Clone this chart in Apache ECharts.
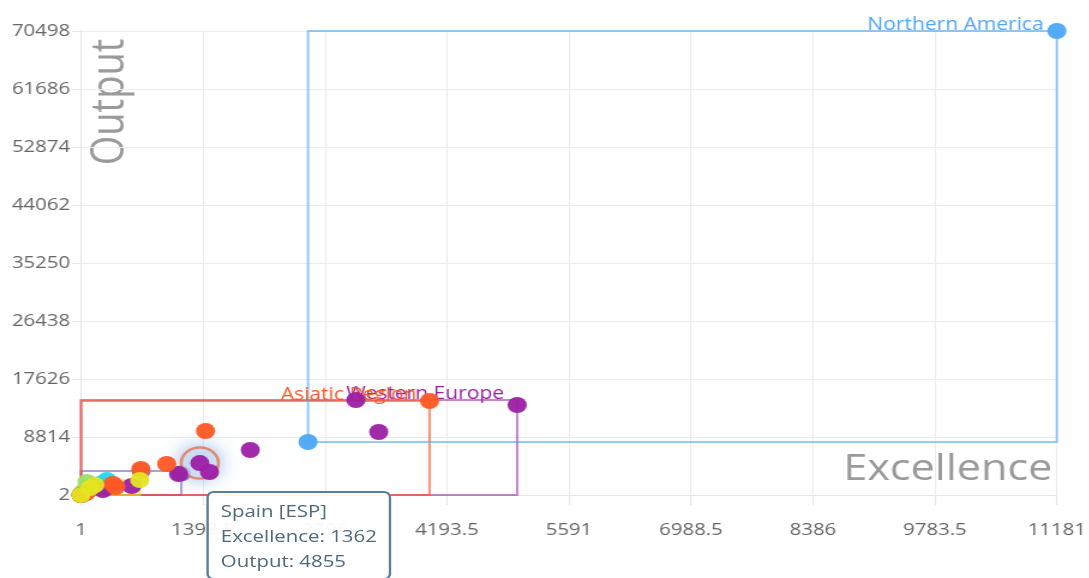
<!DOCTYPE html>
<html><head><meta charset="utf-8">
<script src="https://cdn.jsdelivr.net/npm/echarts@6/dist/echarts.min.js"></script>
<style>
html,body{margin:0;padding:0;background:#fff;overflow:hidden;}
#wrap{width:1089px;height:578px;overflow:hidden;position:relative;}
#chart{width:907.5px;height:578px;transform:scaleX(1.2);transform-origin:0 0;}
</style></head><body><div id="wrap"><div id="chart"></div></div>
<script>
// tick labels
const xTicks = [1, 1398.5, 2796, 4193.5, 5591, 6988.5, 8386, 9783.5, 11181];
const yTicks = [2, 8814, 17626, 26438, 35250, 44062, 52874, 61686, 70498];

// countries per region: [excellence, output, name, code]
const northernAmerica = [[2602, 8054, 'Canada', 'CAN'], [11181, 70498, 'United States', 'USA']];
const asiaticRegion = [[3994, 14284, '', ''], [1427, 9726, '', ''], [982, 4716, '', ''], [686, 3952, '', ''], [366, 1673, '', ''], [400, 1217, '', ''], [60, 300, '', ''], [2, 5, '', '']];
const westernEurope = [[4998, 13676, '', ''], [3150, 14435, '', ''], [3412, 9574, '', ''], [1940, 6839, '', ''], [1362, 4855, 'Spain', 'ESP'], [1473, 3496, '', ''], [1119, 3193, '', ''], [583, 1369, '', ''], [252, 762, '', ''], [1, 3, '', '']];
const easternEurope = [[1150, 3250, '', ''], [690, 3648, '', ''], [300, 1200, '', ''], [2, 4, '', '']];
const latinAmerica = [[297, 2280, '', ''], [218, 1673, '', ''], [150, 1000, '', ''], [5, 20, '', '']];
const middleEast = [[69, 1977, '', ''], [30, 600, '', '']];
const africa = [[674, 2281, '', ''], [160, 1520, '', ''], [104, 1066, '', ''], [1, 2, '', '']];
const highlighted = westernEurope[4];

const chart = echarts.init(document.getElementById('chart'));
const FONT = 'Open Sans';

function regionSeries(name, data, color, lineColor, showLabel) {
  const xs = data.map(d => d[0]), ys = data.map(d => d[1]);
  return {
    type: 'scatter', name,
    data: data.map(d => ({ value: [d[0], d[1]], name: d[2], code: d[3] })),
    symbolSize: 16,
    itemStyle: { color, opacity: 0.95 },
    emphasis: { disabled: true },
    markArea: {
      silent: true,
      itemStyle: { color: 'rgba(0,0,0,0)', borderColor: lineColor, borderWidth: 2 },
      label: { show: showLabel, position: ['100%', 0], align: 'right', verticalAlign: 'bottom',
        offset: [-12, 4], color, fontSize: 17.5, fontFamily: FONT },
      emphasis: { disabled: true },
      data: [[{ name, coord: [Math.min(...xs), Math.min(...ys)] }, { coord: [Math.max(...xs), Math.max(...ys)] }]]
    }
  };
}

const series = [
  regionSeries('Eastern Europe', easternEurope, '#8878d0', 'rgba(136,120,208,0.7)', false),
  regionSeries('Middle East', middleEast, '#9be06a', 'rgba(155,224,106,0.6)', false),
  regionSeries('Latin America', latinAmerica, '#2ed3ea', 'rgba(46,211,234,0.6)', false),
  {
    type: 'scatter', name: 'focus', silent: true, z: 2,
    data: [[highlighted[0], highlighted[1]]],
    symbolSize: 31,
    itemStyle: { color: 'rgba(222,234,248,0.85)', borderColor: 'rgba(236,100,70,0.9)', borderWidth: 2.5,
      shadowBlur: 16, shadowColor: 'rgba(60,130,210,0.7)' },
    tooltip: { show: false }
  },
  regionSeries('Western Europe', westernEurope, '#9c1fa5', 'rgba(156,31,165,0.55)', true),
  regionSeries('Asiatic Region', asiaticRegion, '#ff5722', 'rgba(255,87,34,0.65)', true),
  regionSeries('Africa', africa, '#e5e520', 'rgba(229,229,32,0.6)', false),
  regionSeries('Northern America', northernAmerica, '#4da6f7', 'rgba(77,166,247,0.6)', true)
];

chart.setOption({
  animation: false,
  backgroundColor: '#ffffff',
  grid: { left: 67.5, right: 21, top: 31, bottom: 83, containLabel: false },
  xAxis: {
    type: 'value', min: xTicks[0], max: xTicks[xTicks.length - 1],
    axisLine: { show: true, lineStyle: { color: '#e6e6e6' } },
    axisTick: { show: true, length: 10, customValues: xTicks, lineStyle: { color: '#e6e6e6' } },
    axisLabel: { customValues: xTicks, formatter: v => String(v), margin: 27, color: '#666', fontSize: 17, fontFamily: FONT },
    splitLine: { show: true, lineStyle: { color: '#ebebeb' } }
  },
  yAxis: {
    type: 'value', min: yTicks[0], max: yTicks[yTicks.length - 1],
    axisLine: { show: true, lineStyle: { color: '#e6e6e6' } },
    axisTick: { show: true, length: 7, customValues: yTicks, lineStyle: { color: '#e6e6e6' } },
    axisLabel: { customValues: yTicks, formatter: v => String(v), margin: 9, color: '#666', fontSize: 17, fontFamily: FONT },
    splitLine: { show: true, lineStyle: { color: '#ebebeb' } }
  },
  tooltip: {
    trigger: 'item', triggerOn: 'none', alwaysShowContent: true, transitionDuration: 0,
    position: [172, 491],
    backgroundColor: 'rgba(255,255,255,0.95)', borderColor: '#5a7f99', borderWidth: 2, borderRadius: 6,
    padding: [5, 10],
    textStyle: { color: '#4e6a7e', fontSize: 17, fontFamily: FONT, lineHeight: 25 },
    extraCssText: 'box-shadow:none;',
    formatter: p => `${p.name} [${p.data.code}]<br/>Excellence: ${p.value[0]}<br/>Output: ${p.value[1]}`
  },
  graphic: [
    { type: 'text', x: 92, y: 102, rotation: Math.PI / 2, silent: true,
      style: { text: 'Output', font: '38px "Open Sans"', fill: '#9a9a9a', align: 'center', verticalAlign: 'middle' } },
    { type: 'text', x: 877, y: 470, silent: true,
      style: { text: 'Excellence', font: '36px "Open Sans"', fill: '#9a9a9a', align: 'right', verticalAlign: 'middle' } }
  ],
  series
});

chart.dispatchAction({ type: 'showTip', seriesIndex: 4, dataIndex: 4 });
</script></body></html>
